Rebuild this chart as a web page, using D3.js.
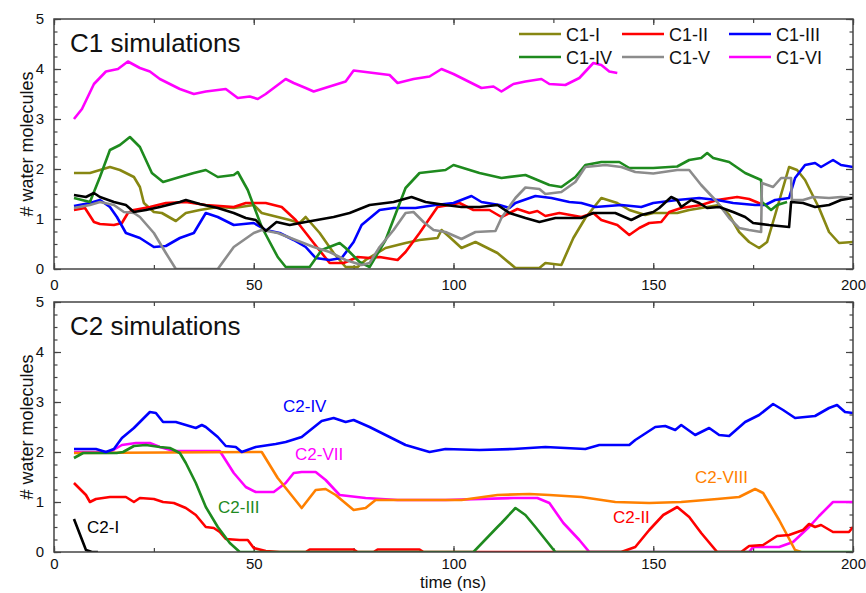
<!DOCTYPE html>
<html>
<head>
<meta charset="utf-8">
<script src="https://cdn.jsdelivr.net/npm/d3@7"></script>
<style>
  body { margin: 0; background: #fff; }
  svg { font-family: "Liberation Sans", Arial, sans-serif; }
</style>
</head>
<body>
<svg id="chart" width="866" height="593"></svg>
<script>
// ---- data: [time (ns), # water molecules] ----
const c1I = [[5,1.92],[9,1.92],[14,2.04],[16.5,1.98],[20,1.84],[21.5,1.64],[22.5,1.32],[25,1.14],[27,1.12],[30.5,0.96],[33,1.12],[36.5,1.18],[41,1.24],[45,1.22],[50,1.28],[52,1.12],[56,1.04],[59,0.98],[61.5,0.92],[63,1.04],[66.5,0.72],[70,0.32],[73,0.04],[76,0.04],[78,0.18],[83,0.42],[88,0.52],[91.5,0.58],[96,0.62],[97,0.78],[99,0.64],[102,0.42],[105.5,0.54],[111,0.32],[115.5,0.02],[121.5,0.02],[123,0.12],[127,0.08],[130,0.62],[133,1.02],[137,1.42],[141,1.32],[144,1.18],[148,1.08],[150,1.12],[156,1.12],[159,1.18],[162,1.22],[166.5,1.28],[169,1.08],[171.5,0.74],[174,0.54],[176.5,0.42],[178.5,0.54],[180.5,1.08],[184,2.04],[186,1.98],[188,1.78],[191.5,1.22],[194,0.74],[196.5,0.52],[200,0.54]];
const c1II = [[5,1.18],[7.75,1.22],[10,0.94],[11.5,0.9],[15,0.88],[17,0.92],[18.5,1.12],[20,1.18],[24,1.24],[28,1.32],[33,1.34],[38,1.28],[45,1.24],[48,1.32],[53,1.32],[57,1.24],[60.5,0.98],[65,0.52],[69,0.12],[72.5,0.12],[76,0.24],[79,0.22],[81.5,0.24],[86,0.18],[88,0.34],[91.5,0.72],[96,1.24],[99,1.28],[101.5,1.32],[105,1.18],[109,1.18],[112,1.04],[116,1.2],[119,1.12],[121,1.16],[123,1.06],[126.5,1.12],[132,1.04],[135,1.12],[137,0.98],[141,0.88],[144,0.68],[146.5,0.82],[149,0.92],[152,0.94],[154,1.14],[157,1.22],[162,1.28],[166,1.38],[171,1.44],[174,1.4],[177,1.3]];
const c1III = [[5,1.26],[9,1.32],[11.5,1.38],[14,1.24],[15.75,1.04],[18,0.72],[21.5,0.62],[25,0.44],[28,0.46],[31.5,0.62],[35,0.72],[38,1.12],[41,1.04],[45,0.88],[50,0.92],[53,0.78],[56.5,0.72],[60,0.58],[63,0.44],[65.5,0.22],[69,0.18],[72,0.22],[75,0.54],[77,0.88],[81.5,1.18],[85,1.22],[90.5,1.22],[95.5,1.28],[100,1.32],[104.5,1.46],[107,1.34],[111.5,1.28],[114,1.22],[115.5,1.32],[120.5,1.46],[124.5,1.42],[129,1.34],[132,1.32],[135.5,1.24],[142,1.28],[147,1.24],[150,1.32],[156,1.38],[161.5,1.42],[166,1.38],[170,1.32],[175.5,1.28],[178,1.28],[180.5,1.38],[184,1.42],[185.5,1.82],[188,2.08],[190.5,2.12],[192,2.04],[195,2.18],[197,2.08],[200,2.04]];
const c1IV = [[5,1.42],[9,1.34],[11.5,1.84],[14,2.38],[16.5,2.48],[19,2.64],[21.5,2.44],[24.5,1.92],[27.3,1.74],[31.5,1.84],[35,1.92],[38,1.98],[41,1.84],[45,1.88],[46,1.94],[48.5,1.58],[52,0.84],[56,0.24],[58,0.04],[64,0.04],[67,0.38],[71.5,0.52],[73,0.42],[76.5,0.14],[79,0.04],[83,0.58],[88,1.62],[91.5,1.92],[98,1.98],[100,2.08],[106.5,1.92],[112,1.82],[118,1.88],[124,1.68],[127,1.64],[130.5,1.84],[133,2.08],[137,2.14],[141.5,2.14],[144,2.02],[150,2.02],[156,2.05],[159,2.18],[162,2.22],[163.5,2.32],[165,2.22],[169,2.14],[173,1.92],[177,1.78],[177.2,1.34],[179.5,1.18],[181,1.28],[183.5,1.34]];
const c1V = [[5,1.22],[9,1.28],[11.5,1.34],[15,1.28],[17.5,1.14],[20,1.12],[21.5,1.04],[25,0.72],[28,0.32],[30.5,0],[41,0],[45,0.44],[50,0.72],[52,0.78],[56,0.72],[60.5,0.58],[65,0.44],[69,0.34],[73,0.18],[77,0.08],[79,0.12],[81.5,0.44],[85,0.78],[88,1.12],[90,1.14],[92.5,0.94],[95,0.78],[98,0.74],[102,0.6],[105.5,0.74],[110.5,0.76],[112,1.02],[115.5,1.42],[118,1.63],[121.5,1.6],[123,1.5],[127,1.54],[130.5,1.74],[133,2.04],[138,2.08],[142,2.04],[145.5,1.94],[150,1.91],[156,1.98],[159,1.98],[162,1.68],[166,1.34],[169,1.02],[171.5,0.82],[174,0.78],[177,0.74],[177.2,1.72],[180,1.64],[182,1.82],[184.5,1.82],[184.7,1.38],[187.5,1.38],[190,1.44],[194,1.42],[197,1.44],[200,1.42]];
const c1VI = [[5,3.0],[7,3.2],[10,3.7],[13,3.95],[16,4.0],[18.5,4.15],[21.5,4.02],[24,3.95],[26.5,3.8],[31.5,3.6],[35,3.5],[38,3.55],[43,3.6],[46,3.42],[49,3.45],[51,3.4],[53,3.5],[55,3.62],[58,3.8],[60,3.72],[63,3.62],[65,3.55],[69,3.65],[73,3.75],[75,3.97],[80,3.92],[84,3.88],[86,3.72],[90,3.8],[94,3.85],[97,4.0],[100,3.9],[103,3.78],[107,3.62],[110,3.65],[112,3.55],[115,3.7],[118,3.75],[122,3.8],[124,3.7],[128,3.68],[131.5,3.82],[135,4.12],[137,4.08],[139,3.95],[141,3.92]];
const c1Black = [[5,1.48],[8,1.44],[10,1.52],[11.5,1.44],[15,1.34],[18,1.28],[20,1.14],[23,1.18],[26.5,1.24],[31.5,1.34],[33,1.38],[36.5,1.3],[41,1.22],[45,1.12],[48,1.02],[50.5,0.98],[53,0.76],[55.7,0.94],[59,0.88],[63,0.94],[70,1.04],[74,1.12],[79,1.28],[85,1.34],[89.5,1.44],[93,1.34],[98,1.28],[102,1.24],[106.5,1.24],[111,1.28],[114,1.12],[118,1.02],[121.5,0.94],[125.5,1.02],[132,1.02],[135,1.12],[140.5,1.12],[144.5,0.98],[147,1.08],[150,1.14],[151.5,1.22],[154.5,1.44],[156,1.38],[157,1.24],[159.5,1.38],[161.5,1.32],[163.5,1.22],[166.5,1.24],[170,1.14],[173,1.04],[175,0.92],[179,0.88],[184,0.84],[184.5,1.34],[187.5,1.32],[190.5,1.24],[194,1.28],[197,1.38],[200,1.42]];

const c2I = [[5,0.66],[8,0.04],[9.5,0],[11,0]];
const c2II = [[5,1.38],[8,1.14],[9,1.0],[10.5,1.06],[14,1.1],[18,1.1],[20,1.0],[21.5,1.08],[25,1.06],[27.3,1.0],[30,0.98],[33,0.88],[35.5,0.74],[38,0.5],[40,0.48],[41.5,0.4],[43,0.26],[46.5,0.24],[48.5,0.24],[50,0.08],[53,0.02],[56.5,0],[63,0],[64,0.05],[75,0.05],[76,0],[80,0],[81,0.05],[91.5,0.05],[92.5,0],[142,0],[145.5,0.1],[149,0.44],[152.5,0.74],[156,0.9],[159,0.7],[162,0.38],[166,0],[172,0],[174,0.12],[177.5,0.14],[181,0.32],[184,0.34],[187.5,0.44],[189,0.56],[190.5,0.5],[192,0.54],[195,0.4],[199,0.4],[200,0.5]];
const c2III = [[5,1.88],[7.3,1.98],[15.7,1.98],[17.3,2.0],[20,2.12],[23,2.14],[26.5,2.1],[29,2.08],[31.5,1.98],[33,1.78],[35.5,1.38],[38,0.9],[41,0.5],[44,0.18],[46.5,0],[105,0],[111,0.5],[112,0.58],[115.5,0.88],[118,0.74],[120.5,0.5],[125.5,0],[200,0]];
const c2IV = [[5,2.06],[10.5,2.06],[13,2.0],[15,2.06],[17,2.28],[20,2.48],[24,2.8],[25.5,2.78],[27.3,2.6],[30.5,2.6],[33,2.54],[35.5,2.48],[37,2.54],[38,2.5],[41,2.3],[43,2.12],[45.5,2.1],[47,2.0],[50.5,2.1],[55.5,2.16],[58,2.2],[62,2.3],[67,2.62],[70,2.68],[73,2.6],[75,2.64],[79,2.5],[84,2.3],[88,2.14],[94,2.0],[98,2.06],[106.5,2.04],[115,2.06],[123,2.1],[133,2.06],[136.5,2.14],[144,2.14],[145.5,2.24],[150.5,2.5],[153,2.52],[155.5,2.44],[157,2.54],[160.5,2.34],[164,2.48],[166.5,2.34],[169,2.32],[173,2.6],[176.5,2.74],[180,2.96],[182.5,2.84],[185.5,2.68],[190.5,2.72],[194,2.88],[196,2.94],[198,2.8],[200,2.78]];
const c2VII = [[5,2.0],[14,2.0],[17,2.14],[20.5,2.18],[24,2.18],[26.5,2.1],[30,2.02],[41.5,2.02],[45,1.58],[48,1.3],[50.5,1.2],[55,1.2],[58,1.38],[60,1.58],[62,1.6],[65.5,1.6],[68,1.44],[71.5,1.14],[78,1.08],[86,1.04],[98,1.04],[115,1.08],[121,1.08],[124,0.98],[127.5,0.58],[131.5,0.24],[134,0],[174,0],[175,0.1],[181.5,0.1],[185,0.2],[189,0.5],[191.5,0.72],[195,1.0],[200,1.0]];
const c2VIII = [[5,1.98],[52,2.0],[56,1.48],[59,1.18],[62,0.88],[65.5,1.24],[68,1.26],[70.5,1.14],[75,0.84],[78,0.88],[80.5,1.04],[90,1.04],[102,1.04],[111,1.14],[119,1.16],[124,1.14],[132,1.1],[140.5,1.0],[149,0.98],[157,1.0],[166,1.06],[171.5,1.1],[175.5,1.26],[177.5,1.18],[181.5,0.64],[185.5,0.04],[187,0]];

const xTicks = [0, 50, 100, 150, 200];
const yTicks = [0, 1, 2, 3, 4, 5];

const topSeries = [
  { name: "C1-I",   data: c1I,     color: "#878712" },
  { name: "C1-II",  data: c1II,    color: "#ff0000" },
  { name: "C1-III", data: c1III,   color: "#0000ff" },
  { name: "C1-IV",  data: c1IV,    color: "#1e8a1e" },
  { name: "C1-V",   data: c1V,     color: "#8c8c8c" },
  { name: "C1-VI",  data: c1VI,    color: "#ff00ff" },
  { name: null,     data: c1Black, color: "#000000" }
];
const botSeries = [
  { name: "C2-I",    data: c2I,    color: "#000000", lx: 87,  ly: 533 },
  { name: "C2-VII",  data: c2VII,  color: "#ff00ff", lx: 295, ly: 460 },
  { name: "C2-VIII", data: c2VIII, color: "#ff8000", lx: 695, ly: 483 },
  { name: "C2-II",   data: c2II,   color: "#ff0000", lx: 613, ly: 523 },
  { name: "C2-III",  data: c2III,  color: "#1e8a1e", lx: 218, ly: 513 },
  { name: "C2-IV",   data: c2IV,   color: "#0000ff", lx: 283, ly: 412 }
];

const svg = d3.select("#chart");
const frameColor = "#444";

const x = d3.scaleLinear().domain([0, 200]).range([54, 853]);
const yTop = d3.scaleLinear().domain([0, 5]).range([269, 19]);
const yBot = d3.scaleLinear().domain([0, 5]).range([552, 302]);

function drawPanel(y, series, id, title, xPad) {
  const [y0, y1] = y.range();
  const g = svg.append("g");

  g.append("clipPath").attr("id", id)
    .append("rect")
    .attr("x", x(0)).attr("y", y1)
    .attr("width", x(200) - x(0)).attr("height", y0 - y1);

  // minor ticks
  const minorX = d3.range(0, 201, 25);
  const minorY = d3.range(0, 5.01, 0.25);
  const axes = [
    g.append("g").attr("transform", `translate(0,${y0})`).call(d3.axisBottom(x).tickValues(minorX).tickSize(-4).tickFormat("")),
    g.append("g").attr("transform", `translate(0,${y1})`).call(d3.axisTop(x).tickValues(minorX).tickSize(-4).tickFormat("")),
    g.append("g").attr("transform", `translate(${x(0)},0)`).call(d3.axisLeft(y).tickValues(minorY).tickSize(-3.5).tickFormat("")),
    g.append("g").attr("transform", `translate(${x(200)},0)`).call(d3.axisRight(y).tickValues(minorY).tickSize(-3.5).tickFormat("")),
    // major ticks with labels
    g.append("g").attr("transform", `translate(0,${y0})`).call(d3.axisBottom(x).tickValues(xTicks).tickSize(-6).tickPadding(xPad).tickFormat(d3.format("d"))),
    g.append("g").attr("transform", `translate(0,${y1})`).call(d3.axisTop(x).tickValues(xTicks).tickSize(-6).tickFormat("")),
    g.append("g").attr("transform", `translate(${x(0)},0)`).call(d3.axisLeft(y).tickValues(yTicks).tickSize(-7).tickPadding(10).tickFormat(d3.format("d"))),
    g.append("g").attr("transform", `translate(${x(200)},0)`).call(d3.axisRight(y).tickValues(yTicks).tickSize(-7).tickFormat(""))
  ];
  axes.forEach(a => {
    a.select(".domain").remove();
    a.selectAll("line").attr("stroke", frameColor).attr("stroke-width", 1.2);
    a.selectAll("text").attr("font-size", 15).attr("fill", "#111")
      .attr("font-family", "Liberation Sans, Arial, sans-serif");
  });

  const line = d3.line().x(d => x(d[0])).y(d => y(d[1]));
  g.append("g").attr("clip-path", `url(#${id})`)
    .selectAll("path").data(series).join("path")
    .attr("d", d => line(d.data))
    .attr("fill", "none")
    .attr("stroke", d => d.color)
    .attr("stroke-width", 2.6)
    .attr("stroke-linejoin", "round");

  g.append("rect")
    .attr("x", x(0)).attr("y", y1)
    .attr("width", x(200) - x(0)).attr("height", y0 - y1)
    .attr("fill", "none").attr("stroke", frameColor).attr("stroke-width", 1.5);

  g.append("text").attr("x", 70).attr("y", y1 + 33)
    .attr("font-size", 26).attr("fill", "#111").text(title);

  g.append("text")
    .attr("transform", `translate(33,${(y0 + y1) / 2}) rotate(-90)`)
    .attr("text-anchor", "middle").attr("font-size", 18).attr("fill", "#111")
    .text("# water molecules");
  return g;
}

drawPanel(yTop, topSeries, "clipTop", "C1 simulations", 10);
const gb = drawPanel(yBot, botSeries, "clipBot", "C2 simulations", 6);

// legend (top panel)
const legendItems = topSeries.filter(s => s.name);
const colX = [519, 622, 729];
const rowY = [34, 57];
const leg = svg.append("g").selectAll("g").data(legendItems).join("g")
  .attr("transform", (d, i) => `translate(${colX[i % 3]},${rowY[Math.floor(i / 3)]})`);
leg.append("line").attr("x1", 0).attr("x2", 42).attr("y1", 0).attr("y2", 0)
  .attr("stroke", d => d.color).attr("stroke-width", 2.6);
leg.append("text").attr("x", 47).attr("y", 6.5).attr("font-size", 18).attr("fill", "#111")
  .text(d => d.name);

// inline labels (bottom panel)
gb.append("g").selectAll("text").data(botSeries).join("text")
  .attr("x", d => d.lx).attr("y", d => d.ly)
  .attr("font-size", 17).attr("fill", d => d.color)
  .text(d => d.name);

svg.append("text").attr("x", 453).attr("y", 588).attr("text-anchor", "middle")
  .attr("font-size", 17).attr("fill", "#111").text("time (ns)");
</script>
</body>
</html>
